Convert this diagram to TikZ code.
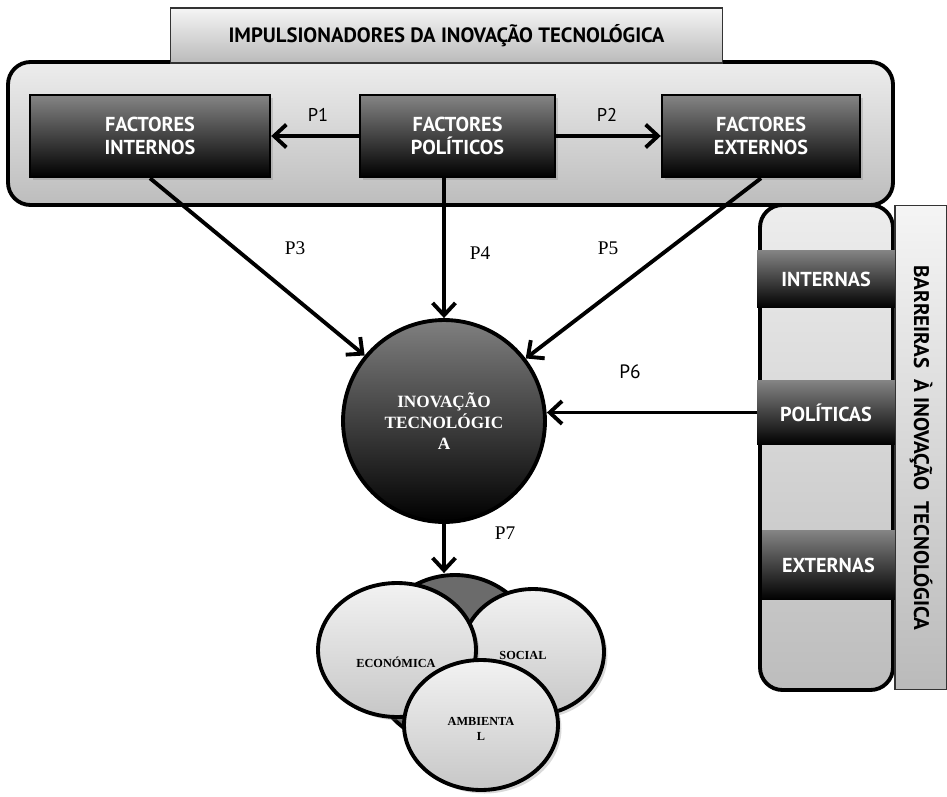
\documentclass[tikz,border=0pt]{standalone}
\usepackage{fontspec}
\setmainfont{Liberation Serif}
\setsansfont{PT Sans}
\usetikzlibrary{arrows.meta,shadows,shapes.geometric}

\begin{document}
\begin{tikzpicture}[x=0.02cm,y=0.02cm,
    darkbox/.style={rectangle,draw=black,line width=1.4pt,top color=black!48,middle color=black!72,bottom color=black,
      text=white,font=\sffamily\bfseries\fontsize{11.5}{13}\selectfont,align=center,inner sep=0pt,
      drop shadow={shadow xshift=1.5pt,shadow yshift=-1.5pt,opacity=0.3}},
    barbox/.style={rectangle,top color=black!48,middle color=black!72,bottom color=black,
      text=white,font=\sffamily\bfseries\fontsize{11.5}{13}\selectfont,inner sep=0pt},
    lightbox/.style={rectangle,draw=black!80,line width=0.6pt,top color=black!4,bottom color=black!27,inner sep=0pt},
    frame/.style={draw=black,line width=2.2pt,rounded corners=0.45cm,top color=black!7,bottom color=black!26},
    arr/.style={line width=2.2pt,-{Straight Barb[length=7pt,width=13pt]}},
    plab/.style={font=\rmfamily\fontsize{11}{13}\selectfont},
    slab/.style={font=\sffamily\fontsize{10.5}{12}\selectfont},
    venn/.style={ellipse,draw=black,line width=2.2pt,top color=black!5,bottom color=black!22,inner sep=0pt,
      drop shadow={shadow xshift=2pt,shadow yshift=-2pt,opacity=0.3}},
    venntext/.style={font=\rmfamily\bfseries\fontsize{7}{9}\selectfont,align=center}
  ]
  \useasboundingbox (0,0) rectangle (947,796);

  % impulsionadores
  \draw[frame] (8,591) rectangle (893,734);
  \node[lightbox,minimum width=11.06cm,minimum height=1.1cm,font=\sffamily\bfseries\fontsize{11.8}{13}\selectfont] (titulo) at (446.5,760.5) {IMPULSIONADORES DA INOVAÇÃO TECNOLÓGICA};
  \node[darkbox,minimum width=4.8cm,minimum height=1.64cm] (internos) at (150,660) {FACTORES\\INTERNOS};
  \node[darkbox,minimum width=3.9cm,minimum height=1.64cm] (politicos) at (457.5,660) {FACTORES\\POLÍTICOS};
  \node[darkbox,minimum width=3.96cm,minimum height=1.64cm] (externos) at (761,660) {FACTORES\\EXTERNOS};

  % barreiras
  \draw[frame] (760,106) rectangle (893,591);
  \node[lightbox,minimum width=1.04cm,minimum height=9.7cm] (barlabel) at (921,348.5) {};
  \node[rotate=-90,font=\sffamily\bfseries\fontsize{12}{14}\selectfont] (bartexto) at (barlabel) {BARREIRAS \ À INOVAÇÃO \ TECNOLÓGICA};
  \node[barbox,minimum width=2.76cm,minimum height=1.16cm] (bint) at (826,517) {INTERNAS};
  \node[barbox,minimum width=2.76cm,minimum height=1.3cm] (bpol) at (826,383.5) {POLÍTICAS};
  \node[barbox,minimum width=2.66cm,minimum height=1.4cm] (bext) at (828.5,231) {EXTERNAS};

  % inovacao
  \node[circle,draw=black,line width=2.2pt,top color=black!50,middle color=black!75,bottom color=black,
    minimum size=4.04cm,text=white,align=center,font=\rmfamily\bfseries\fontsize{9.8}{12}\selectfont] (inovacao) at (444,375) {INOVAÇÃO\\TECNOLÓGIC\\A};

  % sustentabilidade
  \node[circle,draw=black,line width=2.2pt,fill=black!58,minimum size=3.4cm] (fundo) at (455,136) {};
  \node[venn,minimum width=2.84cm,minimum height=2.52cm] (social) at (533,144) {};
  \node[venn,minimum width=3.16cm,minimum height=2.68cm] (economica) at (397,146) {};
  \node[venn,minimum width=3.08cm,minimum height=2.6cm] (ambiental) at (481,71) {};
  \node[venntext] (teco) at (396,134) {ECONÓMICA};
  \node[venntext] (tsoc) at (523,141) {SOCIAL};
  \node[venntext] (tamb) at (481,67) {AMBIENTA\\L};

  % relacoes
  \draw[arr] (politicos.west) -- (internos.east);
  \draw[arr] (politicos.east) -- (externos.west);
  \draw[arr] (internos.south) -- (inovacao);
  \draw[arr] (politicos.south -| inovacao.north) -- (inovacao.north);
  \draw[arr] (externos.south) -- (inovacao);
  \draw[arr] (bpol.west) -- (bpol.west -| inovacao.east);
  \draw[arr] (inovacao.south) -- (inovacao.south |- fundo.north);

  \node[slab] (p1) at (318,681) {P1};
  \node[slab] (p2) at (607,681) {P2};
  \node[plab] (p3) at (295,548) {P3};
  \node[plab] (p4) at (480,543) {P4};
  \node[plab] (p5) at (608,548) {P5};
  \node[slab,font=\sffamily\fontsize{11}{13}\selectfont] (p6) at (630,424) {P6};
  \node[plab] (p7) at (505,263) {P7};
\end{tikzpicture}
\end{document}
